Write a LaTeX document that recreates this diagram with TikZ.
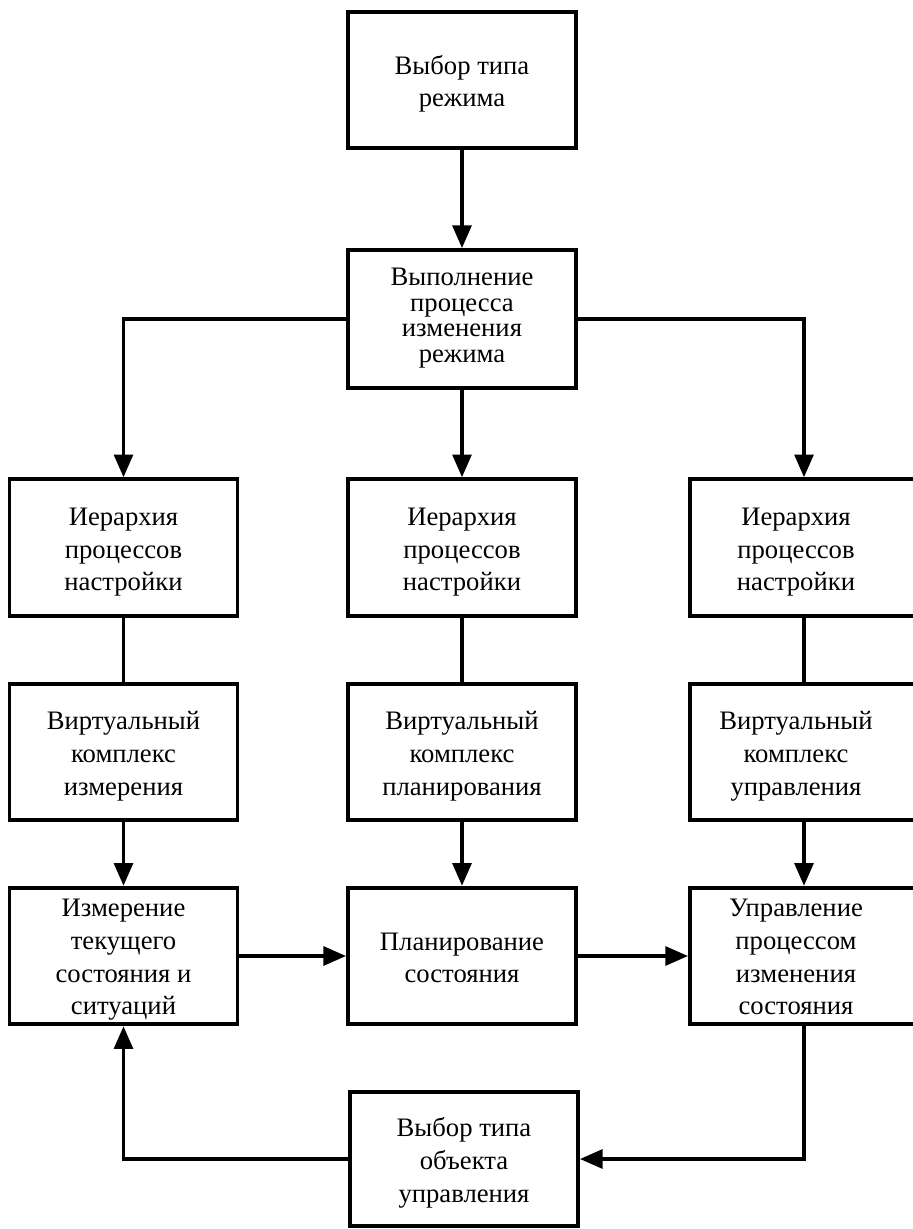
\documentclass[tikz,border=0pt]{standalone}
\usepackage{fontspec}
\setmainfont{Liberation Serif}
\usetikzlibrary{arrows.meta}
\newcommand{\bx}[2][-3pt]{\raisebox{#1}[\height][\depth]{\begin{tabular}{@{}c@{}}#2\end{tabular}}}
\newcommand{\bxr}[2][-3pt]{\hspace*{-12pt}\bx[#1]{#2}}
\begin{document}
\begin{tikzpicture}[x=0.75pt,y=-0.75pt,
  box/.style={draw,line width=2.8pt,rectangle,minimum width=171pt,minimum height=102.5pt,
    inner sep=2pt,font=\fontsize{20pt}{24.5pt}\selectfont},
  conn/.style={line width=2.8pt},
  arr/.style={conn,-{Triangle[length=17pt,width=14pt]}}]
\useasboundingbox (0,0) rectangle (913,1229);
\clip (0,0) rectangle (913,1229);
\fill[white] (0,0) rectangle (913,1229);
\node[box] (t) at (462,80) {\bx{Выбор типа\\режима}};
\node[box,minimum height=103.5pt,font=\fontsize{20pt}{19.2pt}\selectfont] (e) at (462,319) {\bx[0pt]{Выполнение\\процесса\\изменения\\режима}};
\node[box] (h1) at (123.5,547.5) {\bx{Иерархия\\процессов\\настройки}};
\node[box] (h2) at (462,547.5) {\bx{Иерархия\\процессов\\настройки}};
\node[box] (h3) at (804,547.5) {\bxr{Иерархия\\процессов\\настройки}};
\node[box] (v1) at (123.5,752) {\bx{Виртуальный\\комплекс\\измерения}};
\node[box] (v2) at (462,752) {\bx{Виртуальный\\комплекс\\планирования}};
\node[box] (v3) at (804,752) {\bxr{Виртуальный\\комплекс\\управления}};
\node[box] (m1) at (123.5,956) {\bx[-2.5pt]{Измерение\\текущего\\состояния и\\ситуаций}};
\node[box] (m2) at (462,956) {\bx{Планирование\\состояния}};
\node[box] (m3) at (804,956) {\bxr[-2.5pt]{Управление\\процессом\\изменения\\состояния}};
\node[box,minimum height=100.5pt] (b) at (464,1159) {\bx{Выбор типа\\объекта\\управления}};
\draw[arr] (t.south) -- (e.north);
\draw[arr] (e.south) -- (h2.north);
\draw[arr] (e.west) -| (h1.north);
\draw[arr] (e.east) -| (h3.north);
\draw[conn] (h1.south) -- (v1.north);
\draw[conn] (h2.south) -- (v2.north);
\draw[conn] (h3.south) -- (v3.north);
\draw[arr] (v1.south) -- (m1.north);
\draw[arr] (v2.south) -- (m2.north);
\draw[arr] (v3.south) -- (m3.north);
\draw[arr] (m1.east) -- (m2.west);
\draw[arr] (m2.east) -- (m3.west);
\draw[arr] (m3.south) |- (b.east);
\draw[arr] (b.west) -| (m1.south);
\end{tikzpicture}
\end{document}
